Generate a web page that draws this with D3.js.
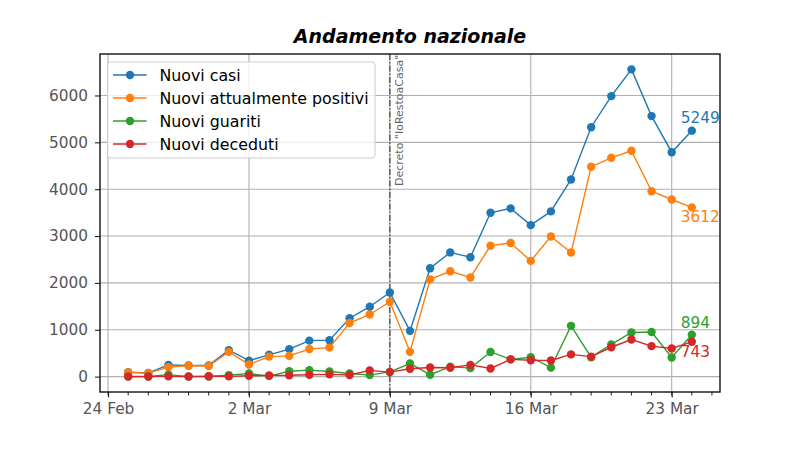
<!DOCTYPE html>
<html>
<head>
<meta charset="utf-8">
<script src="https://cdn.jsdelivr.net/npm/d3@7"></script>
<style>
  body { margin: 0; background: #fff; }
  text { font-family: "DejaVu Sans", sans-serif; }
</style>
</head>
<body>
<script>
// daily data, 25 Feb - 24 Mar 2020
var dates = ["2020-02-25","2020-02-26","2020-02-27","2020-02-28","2020-02-29",
  "2020-03-01","2020-03-02","2020-03-03","2020-03-04","2020-03-05","2020-03-06","2020-03-07",
  "2020-03-08","2020-03-09","2020-03-10","2020-03-11","2020-03-12","2020-03-13","2020-03-14",
  "2020-03-15","2020-03-16","2020-03-17","2020-03-18","2020-03-19","2020-03-20","2020-03-21",
  "2020-03-22","2020-03-23","2020-03-24"]
var nuoviCasi = [93,78,250,238,240,566,342,466,587,769,778,1247,1492,1797,977,2313,2651,2547,
  3497,3590,3233,3526,4207,5322,5986,6557,5560,4789,5249]
var nuoviPositivi = [90,74,203,233,228,528,258,428,443,590,620,1145,1326,1598,529,2076,2249,2116,
  2795,2853,2470,2989,2648,4480,4670,4821,3957,3780,3612]
var nuoviGuariti = [0,2,42,1,4,33,66,11,116,138,109,66,33,102,280,41,213,181,527,369,414,192,
  1084,415,689,943,952,408,894]
var nuoviDeceduti = [3,2,5,4,8,5,18,27,28,41,49,36,133,97,168,196,189,250,175,368,349,345,475,
  427,627,793,651,601,743]
var seriesNames = ["Nuovi casi","Nuovi attualmente positivi","Nuovi guariti","Nuovi deceduti"]
var decretoDate = "2020-03-09"
var yTicks = [0,1000,2000,3000,4000,5000,6000]

var width = 800, height = 449
var margin = {left: 100, right: 80, top: 54, bottom: 57}
var colors = ["#1f77b4","#ff7f0e","#2ca02c","#d62728"]
var labelOffsets = [-8, 14.5, -7, 15.5]

var parse = d3.utcParse("%Y-%m-%d")
var days = dates.map(parse)
var series = [nuoviCasi, nuoviPositivi, nuoviGuariti, nuoviDeceduti]

var svg = d3.select("body").append("svg")
  .attr("width", width)
  .attr("height", height)

// matplotlib-like 5% margins
var xExt = d3.extent(days)
var xPad = (xExt[1] - xExt[0]) * 0.05
var x = d3.scaleUtc()
  .domain([new Date(+xExt[0] - xPad), new Date(+xExt[1] + xPad)])
  .range([margin.left, width - margin.right])

var allVals = d3.merge(series)
var yMin = d3.min(allVals), yMax = d3.max(allVals)
var yPad = (yMax - yMin) * 0.05
var y = d3.scaleLinear()
  .domain([yMin - yPad, yMax + yPad])
  .range([height - margin.bottom, margin.top])

var majorX = d3.utcMonday.range(x.domain()[0], x.domain()[1])
var minorX = d3.utcDay.range(x.domain()[0], x.domain()[1])

// grid
var grid = svg.append("g")
grid.selectAll(".gx").data(majorX).enter().append("line")
  .attr("x1", d => x(d)).attr("x2", d => x(d))
  .attr("y1", margin.top).attr("y2", height - margin.bottom)
  .attr("stroke", "#b0b0b0").attr("stroke-width", 1.1)
grid.selectAll(".gy").data(yTicks).enter().append("line")
  .attr("x1", margin.left).attr("x2", width - margin.right)
  .attr("y1", d => y(d)).attr("y2", d => y(d))
  .attr("stroke", "#b0b0b0").attr("stroke-width", 1.1)

// decreto line
svg.append("line")
  .attr("x1", x(parse(decretoDate))).attr("x2", x(parse(decretoDate)))
  .attr("y1", margin.top).attr("y2", height - margin.bottom)
  .attr("stroke", "#333").attr("stroke-width", 1.1)
  .attr("stroke-dasharray", "6,2,1.5,2")
svg.append("text")
  .attr("transform", "translate(" + (x(parse(decretoDate)) + 13) + "," + 186 + ") rotate(-90)")
  .attr("font-size", 11)
  .attr("fill", "#666")
  .text('Decreto "IoRestoaCasa"')

// lines + markers
var line = d3.line()
  .x((d, i) => x(days[i]))
  .y(d => y(d))

series.forEach(function(s, k) {
  var g = svg.append("g")
  g.append("path")
    .datum(s)
    .attr("d", line)
    .attr("fill", "none")
    .attr("stroke", colors[k])
    .attr("stroke-width", 1.4)
  g.selectAll("circle").data(s).enter().append("circle")
    .attr("cx", (d, i) => x(days[i]))
    .attr("cy", d => y(d))
    .attr("r", 4.2)
    .attr("fill", colors[k])
  var last = s.length - 1
  svg.append("text")
    .attr("x", x(days[last]) - 11)
    .attr("y", y(s[last]) + labelOffsets[k])
    .attr("font-size", 15.3)
    .attr("fill", colors[k])
    .text(s[last])
})

// axes
var xAxis = svg.append("g")
  .attr("transform", "translate(0," + (height - margin.bottom) + ")")
xAxis.selectAll(".minor").data(minorX).enter().append("line")
  .attr("x1", d => x(d)).attr("x2", d => x(d))
  .attr("y1", 0).attr("y2", 3.5)
  .attr("stroke", "#222").attr("stroke-width", 1)
xAxis.call(d3.axisBottom(x).tickValues(majorX).tickFormat(d3.utcFormat("%-d %b")).tickSize(5.5).tickPadding(5.5))
xAxis.select(".domain").remove()

var yAxis = svg.append("g")
  .attr("transform", "translate(" + margin.left + ",0)")
  .call(d3.axisLeft(y).tickValues(yTicks).tickFormat(d3.format("d")).tickSize(5).tickPadding(7))
yAxis.select(".domain").remove()

svg.selectAll(".tick text")
  .attr("font-family", "DejaVu Sans")
  .attr("font-size", 15.3)
  .attr("fill", "#555")
svg.selectAll(".tick line").attr("stroke", "#222").attr("stroke-width", 1.1)

// frame
svg.append("rect")
  .attr("x", margin.left).attr("y", margin.top)
  .attr("width", width - margin.left - margin.right)
  .attr("height", height - margin.top - margin.bottom)
  .attr("fill", "none").attr("stroke", "#111").attr("stroke-width", 1.4)

// title
svg.append("text")
  .attr("x", (margin.left + width - margin.right) / 2)
  .attr("y", 43)
  .attr("text-anchor", "middle")
  .attr("font-size", 19)
  .attr("font-weight", "bold")
  .attr("font-style", "italic")
  .attr("fill", "#000")
  .text("Andamento nazionale")

// legend
var legend = svg.append("g").attr("transform", "translate(107.5,62)")
legend.append("rect")
  .attr("width", 267.5).attr("height", 96)
  .attr("rx", 3)
  .attr("fill", "#fff").attr("fill-opacity", 0.8)
  .attr("stroke", "#ccc")
seriesNames.forEach(function(name, k) {
  var cy = 13 + k * 23
  legend.append("line")
    .attr("x1", 5.5).attr("x2", 39)
    .attr("y1", cy).attr("y2", cy)
    .attr("stroke", colors[k]).attr("stroke-width", 1.4)
  legend.append("circle")
    .attr("cx", 22.5).attr("cy", cy).attr("r", 4.2)
    .attr("fill", colors[k])
  legend.append("text")
    .attr("x", 52).attr("y", cy + 5.5)
    .attr("font-size", 15.8)
    .attr("fill", "#000")
    .text(name)
})
</script>
</body>
</html>
